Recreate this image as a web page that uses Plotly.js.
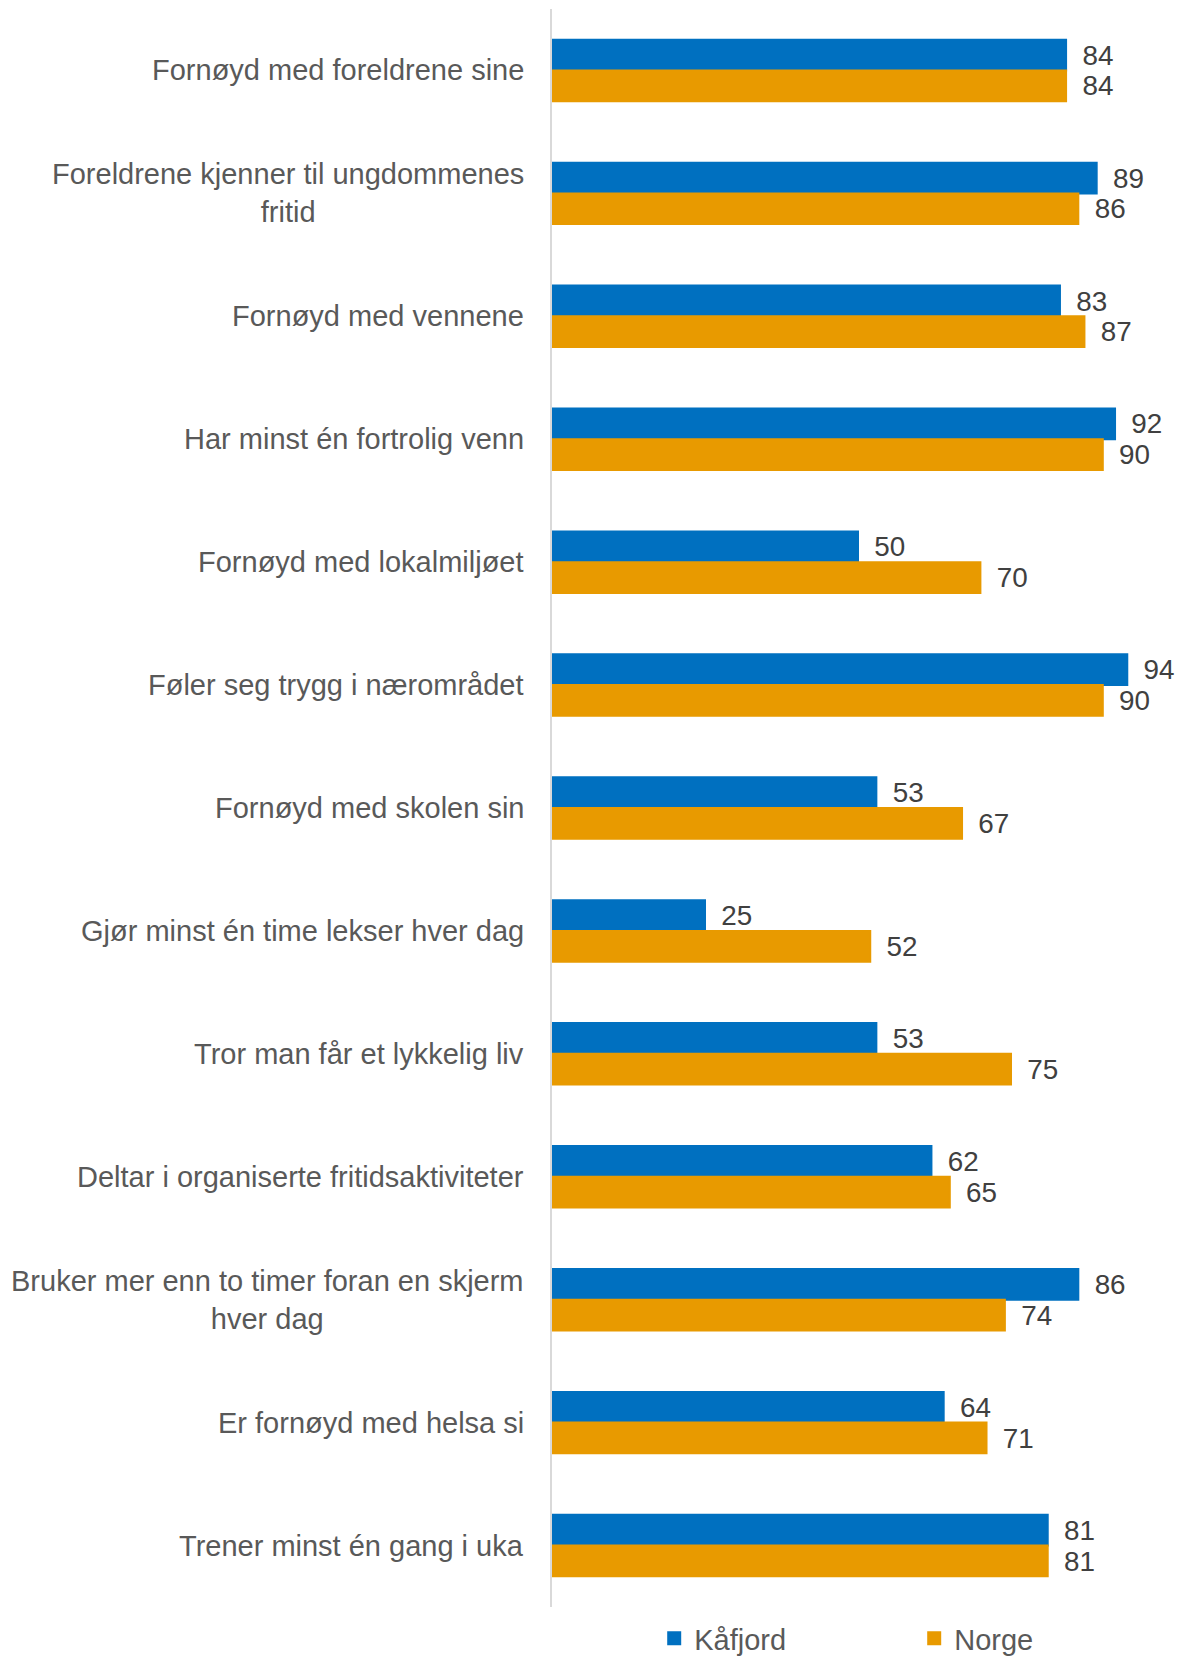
<!DOCTYPE html>
<html>
<head>
<meta charset="utf-8">
<script src="https://cdn.plot.ly/plotly-3.0.1.min.js"></script>
<style>
html,body{margin:0;padding:0;background:#fff;}
#chart{width:1188px;height:1673px;}
</style>
</head>
<body>
<div id="chart"></div>
<script>
const categories = [
  "Fornøyd med foreldrene sine",
  "Foreldrene kjenner til ungdommenes<br>fritid",
  "Fornøyd med vennene",
  "Har minst én fortrolig venn",
  "Fornøyd med lokalmiljøet",
  "Føler seg trygg i nærområdet",
  "Fornøyd med skolen sin",
  "Gjør minst én time lekser hver dag",
  "Tror man får et lykkelig liv",
  "Deltar i organiserte fritidsaktiviteter",
  "Bruker mer enn to timer foran en skjerm<br>hver dag",
  "Er fornøyd med helsa si",
  "Trener minst én gang i uka"
];
const kafjord = [84, 89, 83, 92, 50, 94, 53, 25, 53, 62, 86, 64, 81];
const norge   = [84, 86, 87, 90, 70, 90, 67, 52, 75, 65, 74, 71, 81];
const seriesNames = ["Kåfjord", "Norge"];
const seriesColors = ["#0070C0", "#E89A00"];

const FONT = "Liberation Sans, Arial, sans-serif";
const ids = categories.map((c, i) => i);

function makeTrace(name, values, color) {
  return {
    type: "bar", orientation: "h", name: name,
    y: ids, x: values,
    marker: {color: color, line: {color: color, width: 2}},
    text: values.map(v => "\u00A0\u2009" + v), textposition: "outside",
    textfont: {family: FONT, size: 29, color: "#404040"},
    cliponaxis: false, hoverinfo: "x"
  };
}

const traces = [
  makeTrace(seriesNames[0], kafjord, seriesColors[0]),
  makeTrace(seriesNames[1], norge, seriesColors[1])
];

const annotations = categories.map((c, i) => ({
  xref: "paper", yref: "y", x: 0, y: i,
  xanchor: "right", yanchor: "middle", align: "center",
  xshift: -26, text: c, showarrow: false,
  font: {family: FONT, size: 29, color: "#595959"}
}));

const layout = {
  width: 1188, height: 1673,
  margin: {l: 552, r: 24, t: 9, b: 52},
  paper_bgcolor: "#fff", plot_bgcolor: "#fff",
  barmode: "group", bargap: 0.5, bargroupgap: 0,
  showlegend: true,
  legend: {
    orientation: "h", x: 0.167, xanchor: "left", y: -0.0037, yanchor: "top",
    font: {family: FONT, size: 29, color: "#595959"},
    entrywidth: 215, traceorder: "normal"
  },
  xaxis: {range: [0, 100], showgrid: false, zeroline: false, showticklabels: false, showline: false, ticks: ""},
  yaxis: {
    range: [12.5, -0.5], autorange: false, showticklabels: false, ticks: "",
    showline: true, linecolor: "#D9D9D9", linewidth: 2, zeroline: false, showgrid: false
  },
  annotations: annotations,
  font: {family: FONT}
};

Plotly.newPlot("chart", traces, layout, {displayModeBar: false, staticPlot: true});
</script>
</body>
</html>
